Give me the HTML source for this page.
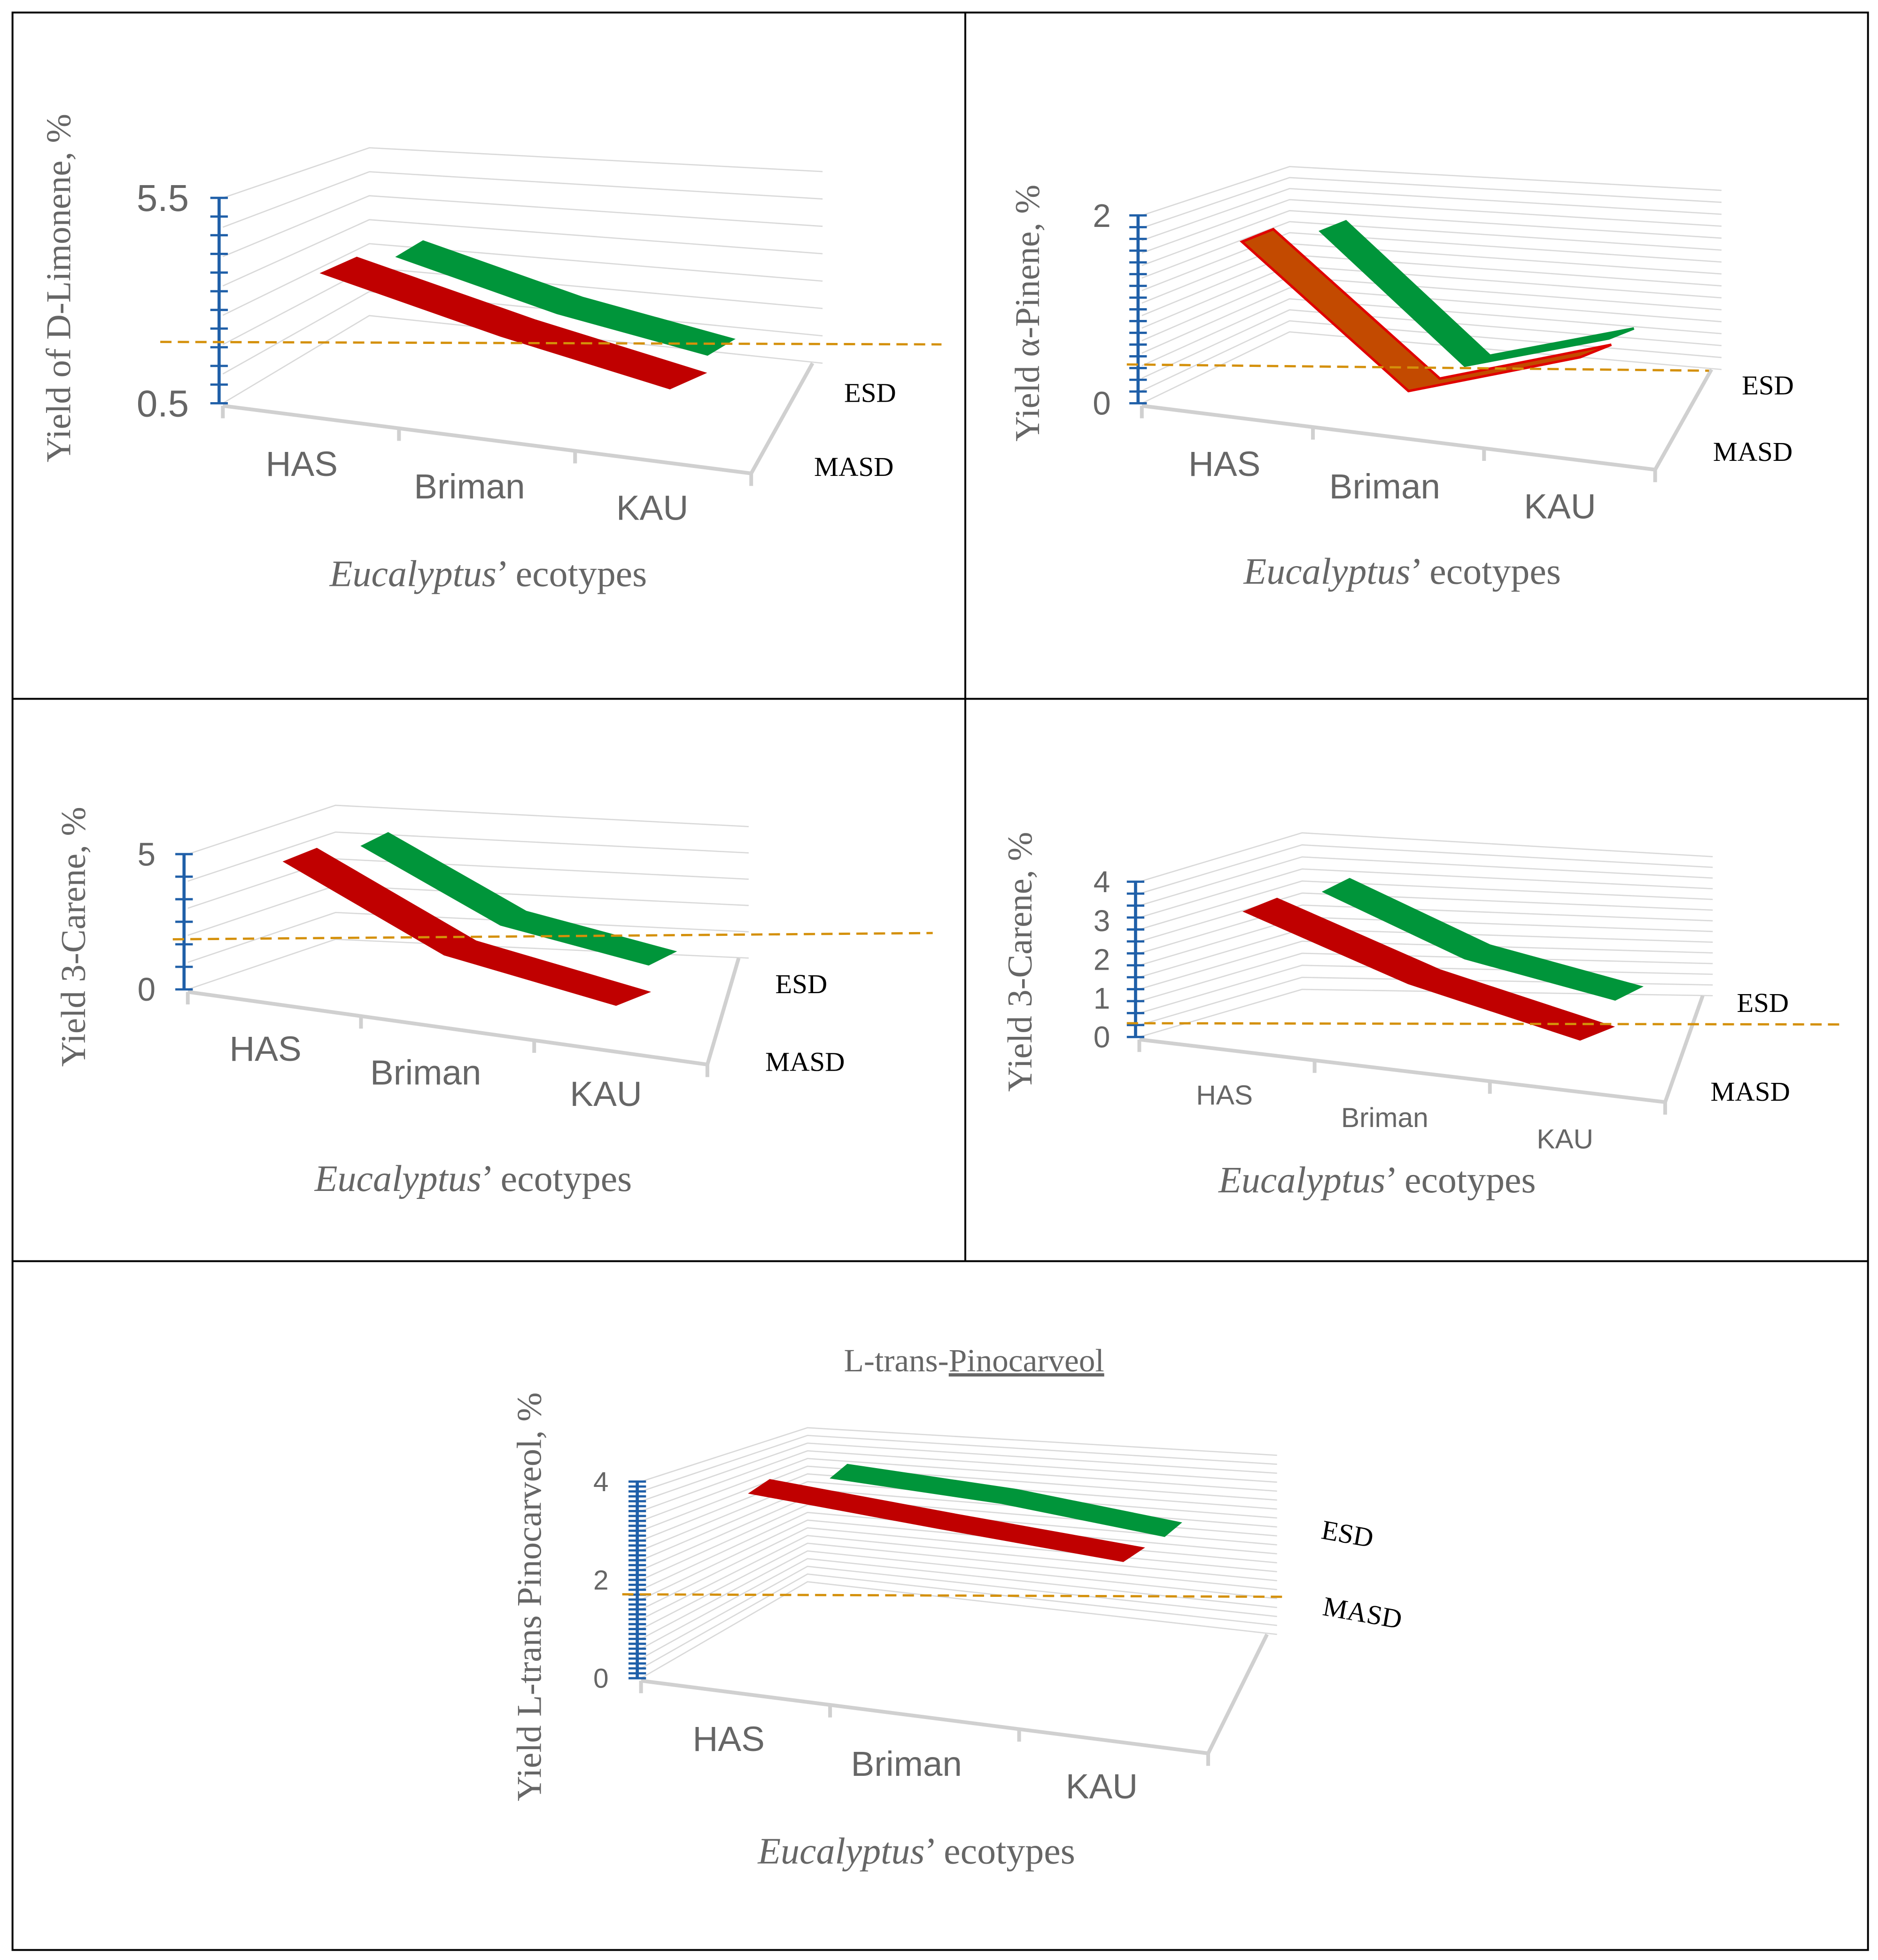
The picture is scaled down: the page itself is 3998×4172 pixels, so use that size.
<!DOCTYPE html>
<html><head><meta charset="utf-8"><style>
html,body{margin:0;padding:0;background:#fff}
svg{display:block}
text{font-family:"Liberation Sans",sans-serif;fill:#666}
.serif{font-family:"Liberation Serif",serif}
</style></head><body>
<svg id="chart" width="3998" height="4172" viewBox="0 0 1500 1565" preserveAspectRatio="none" xmlns="http://www.w3.org/2000/svg">
<rect x="10" y="10" width="1482" height="1547" fill="none" stroke="#000" stroke-width="1.5"/>
<line x1="10" y1="558" x2="1492" y2="558" stroke="#000" stroke-width="1.5"/>
<line x1="10" y1="1007" x2="1492" y2="1007" stroke="#000" stroke-width="1.5"/>
<line x1="771" y1="10" x2="771" y2="1007" stroke="#000" stroke-width="1.5"/>
</svg>
<script>
const categories = ["HAS","Briman","KAU"];
const seriesNames = ["ESD","MASD"];
const p1Masd = [3.67, 2.15, 0.87];
const p1Esd = [4.07, 2.7, 1.69];
const p1Ticks = ["5.5","0.5"];
const p2Masd = [1.72, 0.13, 0.49];
const p2Esd = [1.83, 0.4, 0.69];
const p2Ticks = ["2","0"];
const p3Masd = [4.72, 1.3, -0.56];
const p3Esd = [5.3, 2.4, 0.93];
const p3Ticks = ["5","0"];
const p4Masd = [3.23, 1.39, -0.06];
const p4Esd = [3.74, 2.03, 0.97];
const p4Ticks = ["4","3","2","1","0"];
const p5Masd = [3.77, 3.06, 2.39];
const p5Esd = [4.08, 3.57, 2.9];
const p5Ticks = ["4","2","0"];

const svg = document.getElementById('chart');
const NS = "http://www.w3.org/2000/svg";
function mk(tag, attrs, parent){const e=document.createElementNS(NS,tag);for(const k in attrs)e.setAttribute(k,attrs[k]);(parent||svg).appendChild(e);return e;}
function txt(s,x,y,size,attrs,parent){const t=mk('text',Object.assign({x:x,y:y,'font-size':size,'text-anchor':'middle'},attrs||{}),parent);t.textContent=s;return t;}

const panels = [
 {id:'p1',masd:p1Masd,esd:p1Esd,ticks:p1Ticks,tickVals:[5.5,0.5],vmin:0.5,vmax:5.5,ax:178,top:158,bot:322,
  bl:[295,118,252],br:[657,137,290],fr:[600,378],ng:7,nt:11,
  redX:[258,400,535],redOff:[27,-12],grnX:[318,445,565],grnOff:[20,-12],
  catPos:[[241,380],[375,398],[521,415]],catSize:28,esdP:[695,321],masdP:[682,380],
  tickX:130,tickSize:30,ylab:'Yield of D-Limonene, %',ylx:56,yly:230,title:[390,468],dash:[128,273,752,275],red2:false},
 {id:'p2',masd:p2Masd,esd:p2Esd,ticks:p2Ticks,tickVals:[2,0],vmin:0,vmax:2,ax:912,top:172,bot:322,
  bl:[1030,133,265],br:[1375,152,295],fr:[1322,375],ng:15,nt:16,
  redX:[992,1125,1262],redOff:[25,-10],grnX:[1055,1170,1285],grnOff:[20,-8],
  catPos:[[978,380],[1106,398],[1246,414]],catSize:28,esdP:[1412,315],masdP:[1400,368],
  tickX:880,tickSize:26,ylab:'Yield α-Pinene, %',ylx:830,yly:250,title:[1120,466],dash:[900,291,1365,296],red2:true},
 {id:'p3',masd:p3Masd,esd:p3Esd,ticks:p3Ticks,tickVals:[5,0],vmin:0,vmax:5,ax:150,top:682,bot:790,
  bl:[268,643,750],br:[598,660,765],fr:[565,850],ng:5,nt:6,
  redX:[228,355,492],redOff:[25,-10],grnX:[290,400,518],grnOff:[20,-10],
  catPos:[[212,847],[340,866],[484,883]],catSize:28,esdP:[640,793],masdP:[643,855],
  tickX:117,tickSize:26,ylab:'Yield 3-Carene, %',ylx:68,yly:748,title:[378,951],dash:[138,750,745,745],red2:false},
 {id:'p4',masd:p4Masd,esd:p4Esd,ticks:p4Ticks,tickVals:[4,3,2,1,0],vmin:0,vmax:4,ax:910,top:704,bot:828,
  bl:[1040,665,790],br:[1368,684,795],fr:[1330,880],ng:13,nt:13,
  redX:[995,1125,1262],redOff:[25,-10],grnX:[1058,1170,1290],grnOff:[20,-10],
  catPos:[[978,882],[1106,900],[1250,917]],catSize:22,esdP:[1408,808],masdP:[1398,879],
  tickX:880,tickSize:24,ylab:'Yield 3-Carene, %',ylx:824,yly:768,title:[1100,952],dash:[900,817,1472,818],red2:false},
 {id:'p5',masd:p5Masd,esd:p5Esd,ticks:p5Ticks,tickVals:[4,2,0],vmin:0,vmax:4,ax:512,top:1183,bot:1340,
  bl:[645,1140,1263],br:[1020,1162,1305],fr:[965,1400],ng:20,nt:40,
  redX:[600,750,897],redOff:[15,-10],grnX:[665,800,930],grnOff:[12,-10],
  catPos:[[582,1398],[724,1418],[880,1436]],catSize:28,esdP:null,masdP:null,
  tickX:480,tickSize:22,ylab:'Yield L-trans Pinocarveol, %',ylx:432,yly:1275,title:[732,1488],dash:[497,1273,1027,1275],red2:false}
];

panels.forEach(p=>{
  const g=mk('g',{});
  
  
  const yv = v => p.bot - (v-p.vmin)/(p.vmax-p.vmin)*(p.bot-p.top);
  for(let k=0;k<=p.ng;k++){
    const f=k/p.ng;
    const y0=p.bot-(p.bot-p.top)*f, y1=p.bl[2]-(p.bl[2]-p.bl[1])*f, y2=p.br[2]-(p.br[2]-p.br[1])*f;
    const gl=mk('polyline',{points:`${p.ax},${y0} ${p.bl[0]},${y1} ${p.br[0]},${y2}`,fill:'none',stroke:'#d9d9d9','stroke-width':1},g);
    
    
  }
  const fa=mk('polyline',{points:`${p.ax},${p.bot+2} ${p.fr[0]},${p.fr[1]} ${p.br[0]-8},${p.br[2]}`,fill:'none',stroke:'#d0d0d0','stroke-width':3},g);
  
  
  for(let i=0;i<4;i++){
    const t=(i)/3, x=p.ax+(p.fr[0]-p.ax)*t, y=p.bot+2+(p.fr[1]-p.bot-2)*t;
    mk('line',{x1:x,y1:y,x2:x,y2:y+10,stroke:'#d0d0d0','stroke-width':3},g);
  }
  const draw=(vals,xs,off,fill,stroke,name)=>{
    const front=vals.map((v,i)=>[xs[i],yv(v)]);
    const back=front.map(q=>[q[0]+off[0],q[1]+off[1]]).reverse();
    const pts=front.concat(back).map(q=>q.join(',')).join(' ');
    const r=mk('polygon',{points:pts,fill:fill,stroke:stroke,'stroke-width':2},g);
    
    
  };
  draw(p.esd,p.grnX,p.grnOff,'#00953a','#00953a','esd-ribbon');
  if(p.red2) draw(p.masd,p.redX,p.redOff,'#c34a00','#e00000','masd-ribbon');
  else draw(p.masd,p.redX,p.redOff,'#c00000','#c00000','masd-ribbon');
  const ya=mk('line',{x1:p.ax-3,y1:p.top,x2:p.ax-3,y2:p.bot,stroke:'#1f5fa8','stroke-width':2.5},g);
  
  
  for(let k=0;k<=p.nt;k++){
    const y=p.bot-(p.bot-p.top)*k/p.nt;
    mk('line',{x1:p.ax-10,y1:y,x2:p.ax+4,y2:y,stroke:'#1f5fa8','stroke-width':1.8},g);
  }
  p.ticks.forEach((s,i)=>{
    const t=txt(s,p.tickX,yv(p.tickVals[i])+p.tickSize*0.35,p.tickSize,{},g);
    
    
  });
  categories.forEach((c,i)=>{
    const t=txt(c,p.catPos[i][0],p.catPos[i][1],p.catSize,{},g);
    
    
  });
  if(p.esdP){
    const t1=txt(seriesNames[0],p.esdP[0],p.esdP[1],22,{class:'serif',style:'fill:#000'},g);
    
    
    const t2=txt(seriesNames[1],p.masdP[0],p.masdP[1],22,{class:'serif',style:'fill:#000'},g);
    
    
  }
  const yl=txt(p.ylab,p.ylx,p.yly,28,{class:'serif',transform:`rotate(-90 ${p.ylx} ${p.yly})`},g);
  
  
  const xt=mk('text',{x:p.title[0],y:p.title[1],'font-size':30,'text-anchor':'middle',class:'serif'},g);
  xt.innerHTML='<tspan font-style="italic">Eucalyptus</tspan>’ ecotypes';
  
  
  const d=mk('line',{x1:p.dash[0],y1:p.dash[1],x2:p.dash[2],y2:p.dash[3],stroke:'#d4900a','stroke-width':1.8,'stroke-dasharray':'9,5'},g);
  
  
});
const t5=mk('text',{x:778,y:1095,'font-size':26,'text-anchor':'middle',class:'serif'});
t5.innerHTML='L-trans-<tspan text-decoration="underline">Pinocarveol</tspan>';


const e5=txt(seriesNames[0],1075,1232,22,{class:'serif',style:'fill:#000',transform:'rotate(10 1075 1232)'});


const m5=txt(seriesNames[1],1087,1295,22,{class:'serif',style:'fill:#000',transform:'rotate(10 1087 1295)'});


</script>
</body></html>
